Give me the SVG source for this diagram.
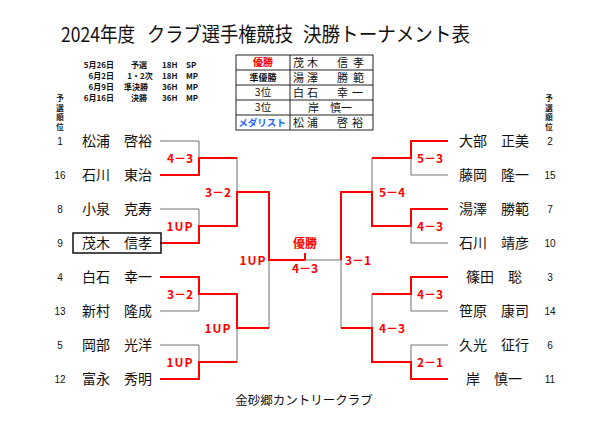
<svg xmlns="http://www.w3.org/2000/svg" width="600" height="424" viewBox="0 0 600 424">
<style>
.t{font-family:"Noto Sans CJK JP","Noto Sans",sans-serif;fill:#111}
.ttl{font-size:20px}
.sch{font-size:8px;font-weight:bold}
.tb{font-size:11px}
.nm{font-size:14px;text-anchor:middle}
.sd{font-family:"Liberation Sans",sans-serif;font-size:10px;text-anchor:middle;fill:#111}
.vl{font-size:7.5px;font-weight:bold;text-anchor:middle}
.sc{font-family:"Noto Sans CJK JP",sans-serif;font-size:12px;font-weight:bold;fill:#ff0000;text-anchor:middle}
.g{fill:none;stroke:#707070;stroke-width:1}
.r{fill:none;stroke:#ff0000;stroke-width:2}
.tl{stroke:#222;stroke-width:1}
</style>
<rect width="600" height="424" fill="#ffffff"/>

<g id="title">
<text class="t ttl" x="61" y="42" textLength="74" lengthAdjust="spacingAndGlyphs">2024年度</text>
<text class="t ttl" x="147" y="42" textLength="146" lengthAdjust="spacingAndGlyphs">クラブ選手権競技</text>
<text class="t ttl" x="303" y="42" textLength="167" lengthAdjust="spacingAndGlyphs">決勝トーナメント表</text>
</g>

<g id="schedule">
<text class="t sch" x="114" y="68" text-anchor="end">5月26日</text>
<text class="t sch" x="139" y="68" text-anchor="middle">予選</text>
<text class="t sch" x="162" y="68">18H</text>
<text class="t sch" x="186" y="68">SP</text>
<text class="t sch" x="114" y="79" text-anchor="end">6月2日</text>
<text class="t sch" x="140" y="79" text-anchor="middle">1・2次</text>
<text class="t sch" x="162" y="79">18H</text>
<text class="t sch" x="186" y="79">MP</text>
<text class="t sch" x="114" y="90" text-anchor="end">6月9日</text>
<text class="t sch" x="136" y="90" text-anchor="middle">準決勝</text>
<text class="t sch" x="162" y="90">36H</text>
<text class="t sch" x="186" y="90">MP</text>
<text class="t sch" x="114" y="100.5" text-anchor="end">6月16日</text>
<text class="t sch" x="139" y="100.5" text-anchor="middle">決勝</text>
<text class="t sch" x="162" y="100.5">36H</text>
<text class="t sch" x="186" y="100.5">MP</text>
</g>

<g id="results">
<rect x="236" y="55" width="137" height="75" fill="none" class="tl"/>
<line class="tl" x1="290" y1="55" x2="290" y2="130"/>
<line class="tl" x1="236" y1="70" x2="373" y2="70"/>
<line class="tl" x1="236" y1="85" x2="373" y2="85"/>
<line class="tl" x1="236" y1="100" x2="373" y2="100"/>
<line class="tl" x1="236" y1="115" x2="373" y2="115"/>
<text class="t" x="263" y="66" font-size="10" font-weight="bold" text-anchor="middle" style="fill:#ff0000">優勝</text>
<text class="t" x="263" y="81" font-size="9" font-weight="bold" text-anchor="middle">準優勝</text>
<text class="t" x="263" y="96" font-size="10.5" text-anchor="middle">3位</text>
<text class="t" x="263" y="111" font-size="10.5" text-anchor="middle">3位</text>
<text class="t" x="262" y="126" font-size="9.5" font-weight="bold" text-anchor="middle" style="fill:#1a66ff">メダリスト</text>
<text class="t tb" x="293 307 337 353" y="66.5">茂木信孝</text>
<text class="t tb" x="293 307 337 353" y="81.5">湯澤勝範</text>
<text class="t tb" x="293 307 337 352" y="96.5">白石幸一</text>
<text class="t tb" x="330" y="111.5" text-anchor="middle">岸　慎一</text>
<text class="t tb" x="293 307 337 352" y="126.5">松浦啓裕</text>
</g>

<g id="seed-label-left">
<text class="t vl" x="60" y="101">予</text>
<text class="t vl" x="60" y="110.5">選</text>
<text class="t vl" x="60" y="120">順</text>
<text class="t vl" x="60" y="129.5">位</text>
</g>
<g id="seed-label-right">
<text class="t vl" x="549" y="101">予</text>
<text class="t vl" x="549" y="110.5">選</text>
<text class="t vl" x="549" y="120">順</text>
<text class="t vl" x="549" y="129.5">位</text>
</g>

<g id="connectors">
<path class="g" d="M160,141H199V158 M160,209H199V226 M160,311H199V294 M160,345H199V362 M237,158V192 M237,328V362 M269,260V328"/>
<path class="g" d="M448,175H411V158 M448,243H411V226 M448,311H411V294 M448,345H411V362 M372,158V192 M372,294V328 M341,260V328 M305,260H341"/>
<path class="r" d="M160,175H199V158H237"/>
<path class="r" d="M160,243H199V226H237V192H269V260H305"/>
<path class="r" d="M305,253V260"/>
<path class="r" d="M160,277H199V294H237V328H269"/>
<path class="r" d="M160,379H199V362H237"/>
<path class="r" d="M448,141H411V158H372"/>
<path class="r" d="M448,209H411V226H372V192H341V260"/>
<path class="r" d="M448,277H411V294H372"/>
<path class="r" d="M448,379H411V362H372V328H341"/>
</g>

<g id="scores">
<text class="sc" x="180" y="162.5">4－3</text>
<text class="sc" x="180" y="230.5" letter-spacing="1">1UP</text>
<text class="sc" x="180" y="298.5">3－2</text>
<text class="sc" x="180" y="366.5" letter-spacing="1">1UP</text>
<text class="sc" x="218" y="196.5">3－2</text>
<text class="sc" x="218" y="332.5" letter-spacing="1">1UP</text>
<text class="sc" x="253" y="264.5" letter-spacing="1">1UP</text>
<text class="sc" x="305" y="247.5" font-size="13">優勝</text>
<text class="sc" x="305" y="272.5">4－3</text>
<text class="sc" x="358" y="264.5">3－1</text>
<text class="sc" x="392" y="196.5">5－4</text>
<text class="sc" x="392" y="332.5">4－3</text>
<text class="sc" x="430" y="162.5">5－3</text>
<text class="sc" x="430" y="230.5">4－3</text>
<text class="sc" x="430" y="298.5">4－3</text>
<text class="sc" x="430" y="366.5">2－1</text>
</g>

<g id="p-L1"><text class="sd" x="60" y="144.5">1</text><text class="t nm" x="117" y="146">松浦　啓裕</text></g>
<g id="p-L2"><text class="sd" x="60" y="178.5">16</text><text class="t nm" x="117" y="180">石川　東治</text></g>
<g id="p-L3"><text class="sd" x="60" y="212.5">8</text><text class="t nm" x="117" y="214">小泉　克寿</text></g>
<g id="p-L4"><text class="sd" x="60" y="246.5">9</text><rect x="73" y="233" width="88" height="20" fill="none" stroke="#111" stroke-width="1.5"/><text class="t nm" x="117" y="248">茂木　信孝</text></g>
<g id="p-L5"><text class="sd" x="60" y="280.5">4</text><text class="t nm" x="117" y="282">白石　幸一</text></g>
<g id="p-L6"><text class="sd" x="60" y="314.5">13</text><text class="t nm" x="117" y="316">新村　隆成</text></g>
<g id="p-L7"><text class="sd" x="60" y="348.5">5</text><text class="t nm" x="117" y="350">岡部　光洋</text></g>
<g id="p-L8"><text class="sd" x="60" y="382.5">12</text><text class="t nm" x="117" y="384">富永　秀明</text></g>

<g id="p-R1"><text class="t nm" x="494" y="146">大部　正美</text><text class="sd" x="550" y="144.5">2</text></g>
<g id="p-R2"><text class="t nm" x="494" y="180">藤岡　隆一</text><text class="sd" x="550" y="178.5">15</text></g>
<g id="p-R3"><text class="t nm" x="494" y="214">湯澤　勝範</text><text class="sd" x="550" y="212.5">7</text></g>
<g id="p-R4"><text class="t nm" x="494" y="248">石川　靖彦</text><text class="sd" x="550" y="246.5">10</text></g>
<g id="p-R5"><text class="t nm" x="494" y="282">篠田　聡</text><text class="sd" x="550" y="280.5">3</text></g>
<g id="p-R6"><text class="t nm" x="494" y="316">笹原　康司</text><text class="sd" x="550" y="314.5">14</text></g>
<g id="p-R7"><text class="t nm" x="494" y="350">久光　征行</text><text class="sd" x="550" y="348.5">6</text></g>
<g id="p-R8"><text class="t nm" x="494" y="384">岸　慎一</text><text class="sd" x="550" y="382.5">11</text></g>

<g id="footer">
<text class="t" x="304" y="404.5" font-size="12.5" text-anchor="middle">金砂郷カントリークラブ</text>
</g>
</svg>
